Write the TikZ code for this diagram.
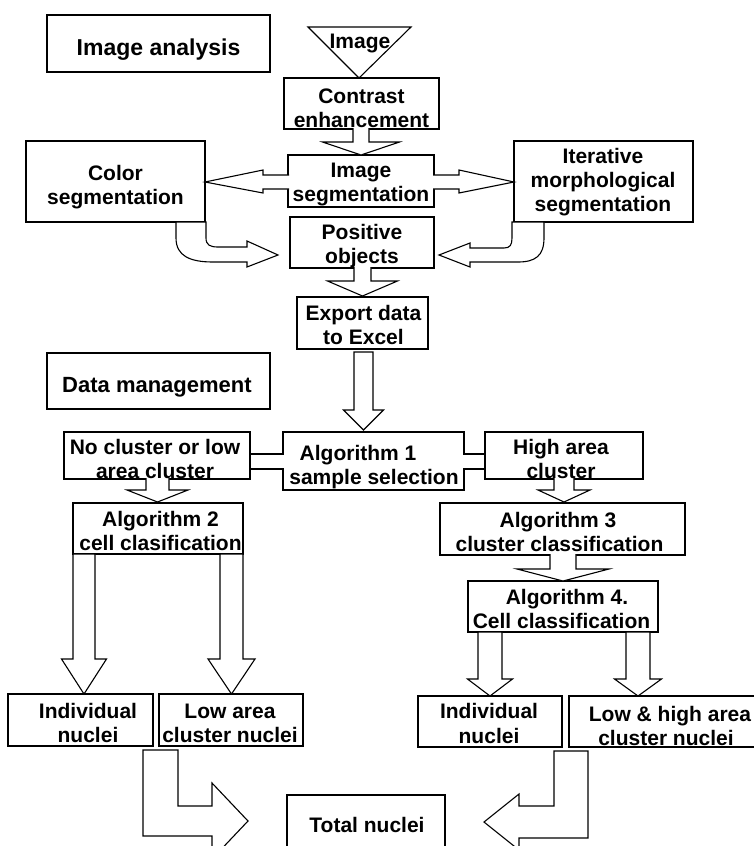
\documentclass[tikz,border=0pt]{standalone}
\usepackage{fontspec}
\setmainfont{Liberation Sans}
\tikzset{
  bl/.style={line width=1.1pt, line join=miter},
  box/.style={draw, fill=white, line width=1.1pt, inner sep=0pt, outer sep=0pt, anchor=north west},
  lbl/.style={inner sep=0pt, anchor=base, font=\fontsize{21}{24}\selectfont\bfseries},
  ttl/.style={inner sep=0pt, anchor=base, font=\fontsize{23}{26}\selectfont\bfseries},
  ttlb/.style={inner sep=0pt, anchor=base, font=\fontsize{22}{26}\selectfont\bfseries},
}
% box: name, x1, y1, x2, y2 (pixel coordinates, y downwards)
\newcommand\bx[5]{\node[box, minimum width={(#4-#2)*1pt}, minimum height={(#5-#3)*1pt}] (#1) at (#2,#3) {};}
% down block arrow, open top (merges with box above): cx, ytop, ybase, yapex, shaft half, head half
\newcommand\dnarrowo[6]{%
  \fill[white] (#1-#5,#2) -- (#1-#5,#3) -- (#1-#6,#3) -- (#1,#4) -- (#1+#6,#3) -- (#1+#5,#3) -- (#1+#5,#2) -- cycle;
  \draw[bl] (#1-#5,#2) -- (#1-#5,#3) -- (#1-#6,#3) -- (#1,#4) -- (#1+#6,#3) -- (#1+#5,#3) -- (#1+#5,#2);}
% down block arrow, closed
\newcommand\dnarrowc[6]{%
  \draw[bl, fill=white] (#1-#5,#2) -- (#1-#5,#3) -- (#1-#6,#3) -- (#1,#4) -- (#1+#6,#3) -- (#1+#5,#3) -- (#1+#5,#2) -- cycle;}
\begin{document}
\begin{tikzpicture}[x=1pt, y=-1pt]
\useasboundingbox (0,0) rectangle (754,846);
\begin{scope}
\clip (0,0) rectangle (754,846);
\fill[white] (0,0) rectangle (754,846);

% ---------- boxes ----------
\bx{ia}{47}{15}{270}{72}
\draw[bl, fill=white] (308,27) coordinate (tri-l) -- (411,27) coordinate (tri-r) -- (359,78) coordinate (tri-b) -- cycle;
\bx{ce}{284}{78}{439}{129}
\bx{is}{288}{155}{434}{207}
\bx{cs}{26}{141}{205}{222}
\bx{im}{514}{141}{693}{222}
\bx{po}{290}{217}{434}{268}
\bx{ex}{297}{297}{428}{349}
\bx{dm}{47}{353}{270}{409}
\bx{nc}{64}{432}{250}{479}
\bx{a1}{283}{432}{464}{490}
\bx{ha}{485}{432}{643}{479}
\bx{a2}{73}{503}{243}{554}
\bx{a3}{440}{503}{685}{555}
\bx{a4}{468}{581}{658}{632}
\bx{inA}{8}{694}{153}{746}
\bx{loA}{159}{694}{303}{746}
\bx{inB}{418}{696}{562}{747}
\bx{loB}{569}{696}{771}{747}
\bx{tn}{287}{795}{445}{880}

% ---------- straight down arrows ----------
\dnarrowo{361}{128}{142}{155}{8}{38.5}
\dnarrowo{362.5}{267}{281}{296}{8.5}{35}
\dnarrowc{363.5}{352}{410}{430}{9.5}{20}
\dnarrowo{157.5}{478}{490}{502}{11.5}{30.5}
\dnarrowo{564}{478}{490}{502}{10}{26}
\dnarrowo{563}{554}{569}{581}{13}{46}
\dnarrowc{84}{554}{659}{694}{11}{22.5}
\dnarrowc{231.5}{554}{659}{694}{11.5}{23.5}
\dnarrowc{490}{632}{679}{696}{12}{22.5}
\dnarrowc{638}{632}{679}{696}{12}{23.5}

% ---------- double arrow from Image segmentation ----------
\fill[white] (289,175) -- (263,175) -- (263,170) -- (205,182) -- (263,193) -- (263,189) -- (289,189) -- cycle;
\draw[bl] (289,175) -- (263,175) -- (263,170) -- (205,182) -- (263,193) -- (263,189) -- (289,189);
\fill[white] (433,175) -- (459,175) -- (459,170) -- (514,182) -- (459,193) -- (459,189) -- (433,189) -- cycle;
\draw[bl] (433,175) -- (459,175) -- (459,170) -- (514,182) -- (459,193) -- (459,189) -- (433,189);

% ---------- bands at Algorithm 1 ----------
\fill[white] (250.7,454) rectangle (284,469);
\draw[bl] (250,454) -- (284,454) (250,469) -- (284,469);
\fill[white] (463,454) rectangle (484.3,469);
\draw[bl] (463,454) -- (485,454) (463,469) -- (485,469);

% ---------- curved arrows to Positive objects ----------
\draw[bl, fill=white] (176,222) -- (176,238) .. controls (176,256) and (190,262) .. (213,262)
  -- (247,262) -- (247,267) -- (278,255) -- (247,241) -- (247,247) -- (218,247)
  .. controls (210,247) and (206,245) .. (206,238) -- (206,222) -- cycle;
\draw[bl, fill=white] (544,222) -- (544,238) .. controls (544,256) and (535,262) .. (518,262)
  -- (470,262) -- (470,267) -- (439,255) -- (470,243) -- (470,248) -- (504,248)
  .. controls (510,248) and (512,245) .. (512,238) -- (512,222) -- cycle;

% ---------- bent arrows to Total nuclei ----------
\draw[bl, fill=white] (143,750) -- (178,750) -- (178,806) -- (212,806) -- (212,783) -- (248,821)
  -- (212,859) -- (212,836) -- (143,836) -- cycle;
\draw[bl, fill=white] (588,751) -- (554,751) -- (554,806) -- (519,806) -- (519,794) -- (484,822)
  -- (519,850) -- (519,838) -- (588,838) -- cycle;

% ---------- texts ----------
\node[ttl] (t-ia) at (158.5,55) {Image analysis};
\node[lbl] (t-img) at (360,48) {Image};
\node[lbl] (t-ce1) at (361.5,103) {Contrast};
\node[lbl] (t-ce2) at (361.5,127) {enhancement};
\node[lbl] (t-is1) at (361,177) {Image};
\node[lbl] (t-is2) at (361,201) {segmentation};
\node[lbl] (t-cs1) at (115.5,180) {Color};
\node[lbl] (t-cs2) at (115.5,204) {segmentation};
\node[lbl] (t-im1) at (603,163) {Iterative};
\node[lbl] (t-im2) at (603,187) {morphological};
\node[lbl] (t-im3) at (603,211) {segmentation};
\node[lbl] (t-po1) at (362,239) {Positive};
\node[lbl] (t-po2) at (362,263) {objects};
\node[lbl] (t-ex1) at (363.5,320) {Export data};
\node[lbl] (t-ex2) at (363.5,344) {to Excel};
\node[ttlb] (t-dm) at (157,392) {Data management};
\node[lbl] (t-nc1) at (155,454) {No cluster or low};
\node[lbl] (t-nc2) at (155,478) {area cluster};
\node[lbl] (t-a11) at (358,460) {Algorithm 1};
\node[lbl] (t-a12) at (374,484) {sample selection};
\node[lbl] (t-ha1) at (561,454) {High area};
\node[lbl] (t-ha2) at (561,478) {cluster};
\node[lbl] (t-a21) at (160.5,526) {Algorithm 2};
\node[lbl] (t-a22) at (160.5,550) {cell clasification};
\node[lbl] (t-a31) at (558,527) {Algorithm 3};
\node[lbl] (t-a32) at (559.5,551) {cluster classification};
\node[lbl] (t-a41) at (567,604) {Algorithm 4.};
\node[lbl] (t-a42) at (561.5,628) {Cell classification};
\node[lbl] (t-inA1) at (88,718) {Individual};
\node[lbl] (t-inA2) at (88,742) {nuclei};
\node[lbl] (t-loA1) at (230,718) {Low area};
\node[lbl] (t-loA2) at (230,742) {cluster nuclei};
\node[lbl] (t-inB1) at (489,718) {Individual};
\node[lbl] (t-inB2) at (489,743) {nuclei};
\node[lbl] (t-loB1) at (670,721) {Low \& high area};
\node[lbl] (t-loB2) at (666,745) {cluster nuclei};
\node[lbl] (t-tn) at (367,832) {Total nuclei};
\end{scope}
\end{tikzpicture}
\end{document}
